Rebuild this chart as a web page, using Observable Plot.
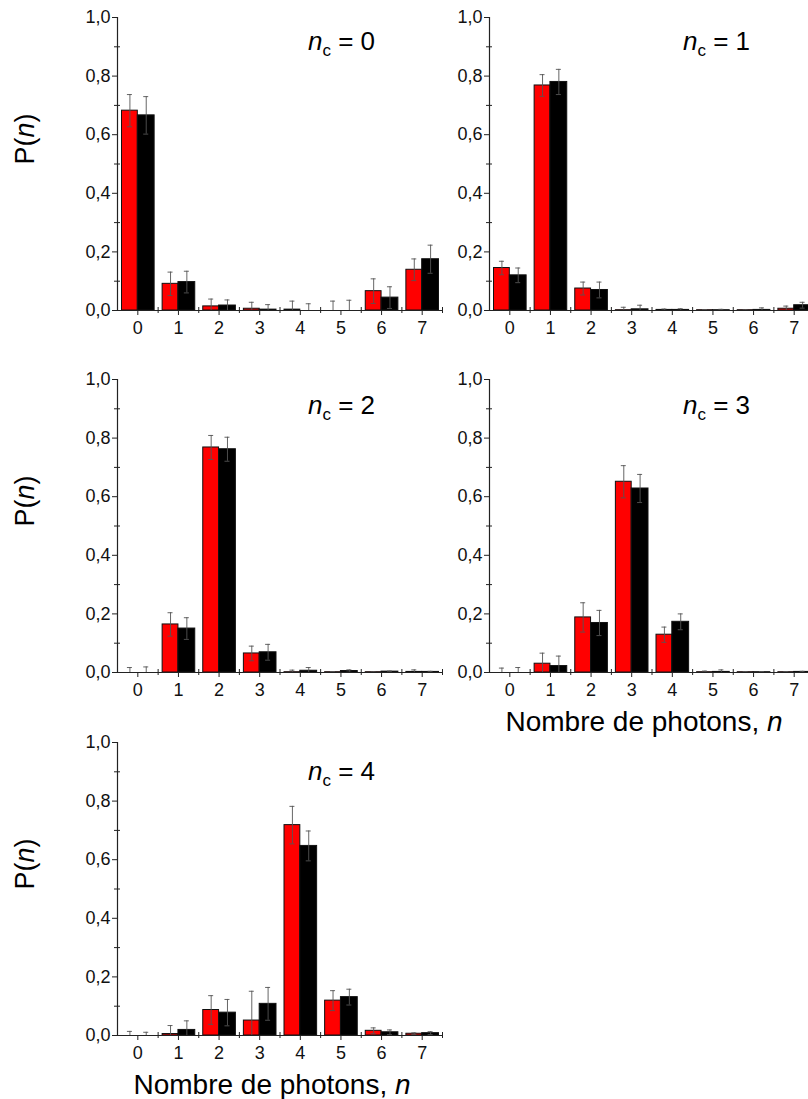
<!DOCTYPE html>
<html><head><meta charset="utf-8">
<script src="https://cdn.jsdelivr.net/npm/d3@7"></script>
<script src="https://cdn.jsdelivr.net/npm/@observablehq/plot@0.6"></script>
<style>
html,body{margin:0;padding:0;background:#fff;}
#fig{position:relative;width:808px;height:1099px;overflow:hidden;font-family:"Liberation Sans",Arial,sans-serif;}
#fig svg{position:absolute;}
</style></head><body><div id="fig"></div>
<script>
// ---- data ----
const photonN = [0, 1, 2, 3, 4, 5, 6, 7];
const ncValues = [0, 1, 2, 3, 4];
// red series P(n), one row per n_c
const redP = [
  [0.682, 0.091, 0.014, 0.006, 0.003, 0.000, 0.066, 0.139],
  [0.145, 0.768, 0.075, 0.001, 0.002, 0.001, 0.001, 0.006],
  [0.000, 0.164, 0.768, 0.065, 0.001, 0.001, 0.001, 0.002],
  [0.000, 0.030, 0.188, 0.651, 0.129, 0.001, 0.001, 0.001],
  [0.000, 0.005, 0.087, 0.051, 0.718, 0.119, 0.016, 0.006]
];
const redErr = [
  [0.055, 0.040, 0.025, 0.022, 0.029, 0.032, 0.042, 0.037],
  [0.023, 0.037, 0.022, 0.010, 0.003, 0.002, 0.001, 0.009],
  [0.017, 0.040, 0.041, 0.025, 0.007, 0.002, 0.001, 0.007],
  [0.015, 0.036, 0.050, 0.055, 0.026, 0.004, 0.002, 0.002],
  [0.014, 0.029, 0.049, 0.100, 0.064, 0.034, 0.010, 0.003]
];
// black series P(n)
const blackP = [
  [0.666, 0.097, 0.017, 0.003, 0.000, 0.000, 0.044, 0.175],
  [0.120, 0.780, 0.070, 0.004, 0.002, 0.001, 0.002, 0.018],
  [0.000, 0.150, 0.762, 0.069, 0.006, 0.005, 0.003, 0.002],
  [0.000, 0.022, 0.169, 0.628, 0.173, 0.002, 0.001, 0.002],
  [0.000, 0.019, 0.078, 0.108, 0.647, 0.131, 0.011, 0.008]
];
const blackErr = [
  [0.064, 0.037, 0.019, 0.017, 0.023, 0.035, 0.037, 0.048],
  [0.025, 0.043, 0.027, 0.014, 0.004, 0.003, 0.007, 0.010],
  [0.019, 0.037, 0.041, 0.027, 0.011, 0.004, 0.002, 0.002],
  [0.017, 0.034, 0.043, 0.048, 0.027, 0.007, 0.002, 0.002],
  [0.011, 0.031, 0.045, 0.056, 0.051, 0.027, 0.008, 0.005]
];
// ticks
const yTicks = [0, 0.2, 0.4, 0.6, 0.8, 1.0];
const yMinorTicks = [0.1, 0.3, 0.5, 0.7, 0.9];
const xMinorTicks = [0.5, 1.5, 2.5, 3.5, 4.5, 5.5, 6.5, 7.5];
const yLabel = "P(";
const xLabel = "Nombre de photons, ";

// ---- layout ----
const W = 325, H = 293, ML = 62, MT = 12, MR = 14, MB = 72;
const STEP = W / 8;
const panels = [
  {left: 117, top: 17, titleX: 191, titleDy: 33, showXLabel: false, showYLabel: true},
  {left: 489, top: 17, titleX: 194, titleDy: 33, showXLabel: false, showYLabel: false},
  {left: 117, top: 379, titleX: 191, titleDy: 35, showXLabel: false, showYLabel: true},
  {left: 489, top: 379, titleX: 194, titleDy: 35, showXLabel: true, showYLabel: false},
  {left: 117, top: 742, titleX: 191, titleDy: 38, showXLabel: true, showYLabel: true}
];
const redInL = 4.5, redInR = STEP / 2, blkInL = STEP / 2, blkInR = 3.5;
const redDx = (redInL + (STEP - redInR)) / 2 - STEP / 2;
const blkDx = (blkInL + (STEP - blkInR)) / 2 - STEP / 2;
const capHalf = 2.5;
const fmt = d => d.toFixed(1).replace(".", ",");
const errColor = "#555";

const fig = document.getElementById("fig");

ncValues.forEach((nc, i) => {
  const lay = panels[i];
  const redRows = photonN.map((n, j) => ({n, p: redP[i][j], e: redErr[i][j]}));
  const blkRows = photonN.map((n, j) => ({n, p: blackP[i][j], e: blackErr[i][j]}));
  const lo = d => Math.max(0, d.p - d.e);
  const hi = d => d.p + d.e;
  const errMarks = (rows, dx) => {
    const cx = STEP / 2 + dx;
    return [
      Plot.ruleX(rows, {x: "n", y1: lo, y2: hi, dx, stroke: errColor, strokeWidth: 0.9}),
      Plot.ruleY(rows, {y: hi, x1: d => d.n - 0.5, x2: d => d.n + 0.5,
        insetLeft: cx - capHalf, insetRight: STEP - cx - capHalf, stroke: errColor, strokeWidth: 0.9}),
      Plot.ruleY(rows.filter(d => d.p - d.e > 0), {y: lo, x1: d => d.n - 0.5, x2: d => d.n + 0.5,
        insetLeft: cx - capHalf, insetRight: STEP - cx - capHalf, stroke: errColor, strokeWidth: 0.9})
    ];
  };
  const chart = Plot.plot({
    width: ML + W + MR,
    height: MT + H + MB,
    marginLeft: ML, marginRight: MR, marginTop: MT, marginBottom: MB,
    x: {domain: [-0.5, 7.5]},
    y: {domain: [0, 1]},
    style: {background: "transparent", fontFamily: "'Liberation Sans', Arial, sans-serif", fontSize: "17px", color: "#111", overflow: "visible"},
    marks: [
      Plot.rect(redRows, {x1: d => d.n - 0.5, x2: d => d.n + 0.5, y1: 0, y2: "p",
        insetLeft: redInL, insetRight: redInR, fill: "#ff0000", stroke: "#111", strokeWidth: 1}),
      Plot.rect(blkRows, {x1: d => d.n - 0.5, x2: d => d.n + 0.5, y1: 0, y2: "p",
        insetLeft: blkInL, insetRight: blkInR, fill: "#000", stroke: "#111", strokeWidth: 1}),
      ...errMarks(redRows, redDx),
      ...errMarks(blkRows, blkDx),
      Plot.ruleY([0], {stroke: "#222", strokeWidth: 1.2}),
      Plot.ruleX([-0.5], {stroke: "#222", strokeWidth: 1.2}),
      Plot.ruleX(xMinorTicks, {insetTop: H - 3, insetBottom: -3, stroke: "#222"}),
      Plot.ruleY(yMinorTicks, {insetLeft: -3, insetRight: W - 3, stroke: "#222"}),
      Plot.axisY(yTicks, {tickSize: 5, tickPadding: 2, tickFormat: fmt, label: null, stroke: "#222", fontSize: 18}),
      Plot.axisX(photonN, {tickSize: 5, tickPadding: 6, label: null, stroke: "#222", fontSize: 18})
    ]
  });
  chart.style.left = (lay.left - ML) + "px";
  chart.style.top = (lay.top - MT) + "px";
  const svg = d3.select(chart);
  // title n_c = k
  const t = svg.append("text").attr("x", ML + lay.titleX).attr("y", MT + lay.titleDy)
    .attr("text-anchor", "start").attr("font-size", 26).attr("fill", "#000");
  t.append("tspan").attr("font-style", "italic").text("n");
  t.append("tspan").attr("font-size", 17).attr("dy", 6).text("c");
  t.append("tspan").attr("dy", -6).text("\u00a0=\u00a0" + nc);
  // y label
  if (lay.showYLabel) {
    const yl = svg.append("text")
      .attr("transform", `translate(${ML - 83},${MT + 122}) rotate(-90)`)
      .attr("text-anchor", "middle").attr("font-size", 27).attr("fill", "#000");
    yl.append("tspan").text(yLabel);
    yl.append("tspan").attr("font-style", "italic").text("n");
    yl.append("tspan").text(")");
  }
  if (lay.showXLabel) {
    const xl = svg.append("text").attr("x", ML + 155).attr("y", MT + H + 59)
      .attr("text-anchor", "middle").attr("font-size", 28).attr("fill", "#000");
    xl.append("tspan").text(xLabel);
    xl.append("tspan").attr("font-style", "italic").text("n");
  }
  fig.appendChild(chart);
});
</script>
</body></html>
